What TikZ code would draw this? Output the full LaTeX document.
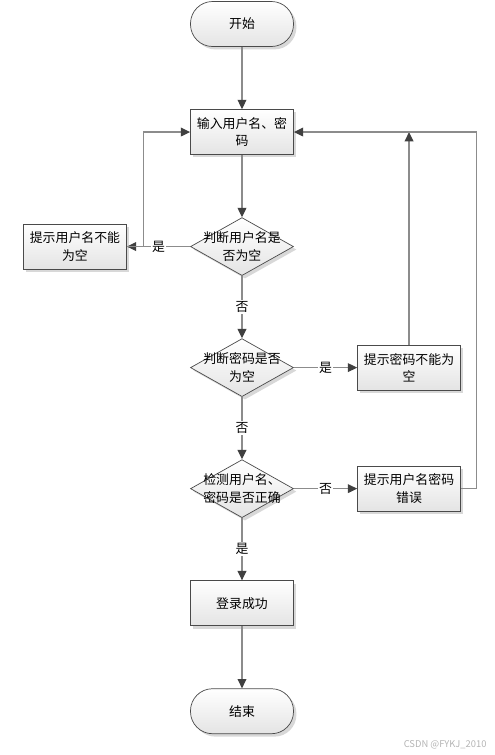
\documentclass[tikz,border=0pt]{standalone}
\usepackage{fontspec}
\setmainfont{Noto Sans CJK SC}
\usepackage{tikz}
\usetikzlibrary{shapes.geometric,arrows.meta,positioning,shadows}
\definecolor{EdgeGray}{HTML}{8C8C8C}
\definecolor{TipDark}{HTML}{404040}
\definecolor{BorderGray}{HTML}{4A4A4A}
\definecolor{FillLow}{HTML}{E4E4E4}
\definecolor{MarkGray}{HTML}{B4B4B4}
\tikzset{
  % Base look of every shape
  base/.style={draw=BorderGray,line width=0.6pt,
               top color=white,bottom color=FillLow,
               drop shadow={shadow xshift=2.5pt,shadow yshift=-2.5pt,fill=gray!60},
               minimum width=3.09cm,inner sep=1pt,
               align=center,font=\fontsize{11}{15}\selectfont},
  % Start / end
  term/.style={base,rectangle,rounded corners=0.66cm,minimum height=1.35cm},
  % Process box
  proc/.style={base,rectangle,minimum height=1.35cm},
  % Decision (text laid over the shape)
  dec/.style={base,diamond,minimum height=1.74cm,inner sep=0pt},
  % Arrow
  arr/.style={-{Triangle[length=8pt,width=7.5pt,color=TipDark]},
              line width=1pt,EdgeGray},
  % Edge label
  lab/.style={midway,fill=white,inner sep=1pt,text=black,
              font=\fontsize{11}{13}\selectfont}
}
\begin{document}
\begin{tikzpicture}[node distance=1.87cm and 1.9cm]
  \useasboundingbox (0,0) rectangle (14.85,-22.65);
  \node[term] (start) at (7.26,-0.72) {开始};
  \node[proc,below=of start]   (input)    {输入用户名、密\\码};
  \node[dec,below=of input,
        label={[align=center,font=\fontsize{11}{15}\selectfont]center:判断用户名是\\否为空}] (chkUser) {};
  \node[proc,left=of chkUser]  (warnUser) {提示用户名不能\\为空};
  \node[dec,below=of chkUser,
        label={[align=center,font=\fontsize{11}{15}\selectfont]center:判断密码是否\\为空}] (chkPwd) {};
  \node[proc,right=of chkPwd]  (warnPwd)  {提示密码不能为\\空};
  \node[dec,below=of chkPwd,
        label={[align=center,font=\fontsize{11}{15}\selectfont]center:检测用户名、\\密码是否正确}] (chkLogin) {};
  \node[proc,right=of chkLogin] (warnLogin) {提示用户名密码\\错误};
  \node[proc,below=of chkLogin] (success) {登录成功};
  \node[term,below=of success]  (stop)    {结束};
  \draw[arr] (start)    -- (input);
  \draw[arr] (input)    -- (chkUser);
  \draw[arr] (chkUser)  -- node[lab]{是} (warnUser);
  \draw[arr] (warnUser.east) -- ++(0.51,0) |- (input.west);
  \draw[arr] (chkUser)  -- node[lab]{否} (chkPwd);
  \draw[arr] (chkPwd)   -- node[lab]{是} (warnPwd);
  \draw[arr] (warnPwd.north) -- (warnPwd.north |- input.east);
  \draw[arr] (chkPwd)   -- node[lab]{否} (chkLogin);
  \draw[arr] (chkLogin) -- node[lab]{否} (warnLogin);
  \draw[arr] (warnLogin.east) -- ++(0.48,0) |- (input.east);
  \draw[arr] (chkLogin) -- node[lab]{是} (success);
  \draw[arr] (success)  -- (stop);
  \node[anchor=east,text=MarkGray,font=\fontsize{8}{9}\selectfont] (mark) at (14.72,-22.33) {CSDN @FYKJ\_2010};
\end{tikzpicture}
\end{document}
